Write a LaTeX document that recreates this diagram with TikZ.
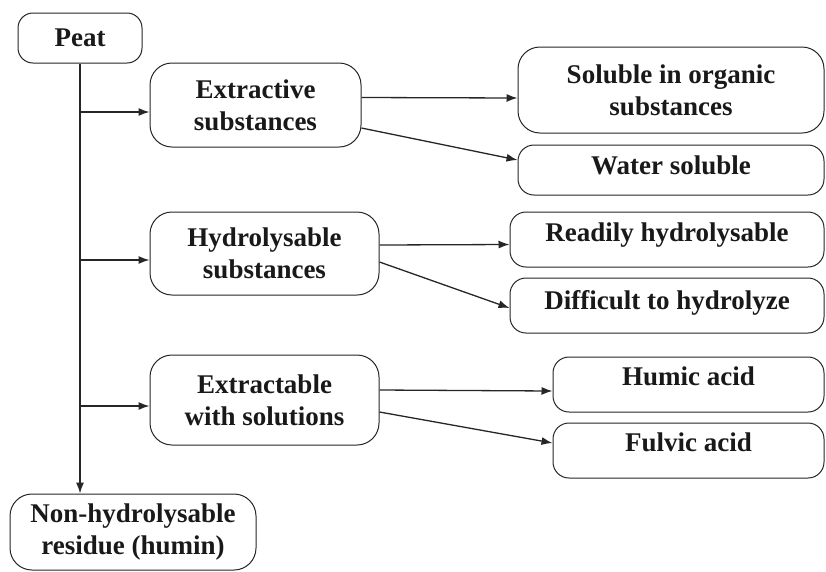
\documentclass[tikz,border=0pt]{standalone}
\usepackage{fontspec}
\setmainfont{Liberation Serif}
\usepackage{tikz}
\usetikzlibrary{arrows.meta,positioning,calc}
\definecolor{inkgray}{HTML}{262626}
\tikzset{
  >={Latex[length=11pt,width=8pt]},
  % boxes
  bx/.style={draw=inkgray,line width=1pt,rounded corners=22pt,fill=white,
             align=center,inner sep=2pt,text=black!90,
             font=\fontsize{27}{32}\selectfont\bfseries},
  sm/.style={rounded corners=16pt},
  raised/.style={text depth=#1},
  % connectors
  ar/.style={->,draw=inkgray,line width=1.3pt},
}
\begin{document}
\begin{tikzpicture}[x=1pt,y=-1pt]
  \useasboundingbox (0,0) rectangle (826,571);
  \node[bx,rounded corners=15pt,minimum width=124pt,minimum height=50pt] (peat) at (80,38) {Peat};
  \node[bx,minimum width=211pt,minimum height=84pt] (ext) at (255.5,105) {Extractive\\substances};
  \node[bx,minimum width=229pt,minimum height=83pt] (hyd) at (264.5,253.5) {Hydrolysable\\substances};
  \node[bx,minimum width=229pt,minimum height=90pt] (etb) at (264.5,400) {Extractable\\with solutions};
  \node[bx,minimum width=246pt,minimum height=76pt] (non) at (133,532) {Non-hydrolysable\\residue (humin)};

  \node[bx,minimum width=306pt,minimum height=86pt] (sol) at (671,90) {Soluble in organic\\substances};
  \node[bx,sm,raised=9pt,minimum width=306pt,minimum height=50pt] (wat) at (671,170) {Water soluble};
  \node[bx,sm,raised=14pt,minimum width=314pt,minimum height=55pt] (rea) at (667,239.5) {Readily hydrolysable};
  \node[bx,sm,raised=12pt,minimum width=314pt,minimum height=55pt] (dif) at (667,305.5) {Difficult to hydrolyze};
  \node[bx,sm,raised=17pt,minimum width=271pt,minimum height=55pt] (hum) at (688.5,384.5) {Humic acid};
  \node[bx,sm,raised=17pt,minimum width=271pt,minimum height=55pt] (ful) at (688.5,450.5) {Fulvic acid};

  % trunk
  \coordinate (inext) at ([yshift=-7pt]ext.west);
  \coordinate (inhyd) at ([yshift=-6.5pt]hyd.west);
  \coordinate (inetb) at ([yshift=-6pt]etb.west);
  \draw[ar] (peat.south) -- (peat.south |- non.north);
  \draw[ar] (peat.south |- inext) -- (inext);
  \draw[ar] (peat.south |- inhyd) -- (inhyd);
  \draw[ar] (peat.south |- inetb) -- (inetb);

  % branches
  \draw[ar] ([yshift=7.5pt]ext.east) -- ([yshift=-8pt]sol.west);
  \draw[ar] ([yshift=-23pt]ext.east) -- ([yshift=10pt]wat.west);
  \draw[ar] ([yshift=8.5pt]hyd.east) -- ([yshift=-5pt]rea.west);
  \draw[ar] ([yshift=-8.5pt]hyd.east) -- ([yshift=-2.5pt]dif.west);
  \draw[ar] ([yshift=10pt]etb.east) -- ([yshift=-6.5pt]hum.west);
  \draw[ar] ([yshift=-12pt]etb.east) -- ([yshift=7.5pt]ful.west);
\end{tikzpicture}
\end{document}
